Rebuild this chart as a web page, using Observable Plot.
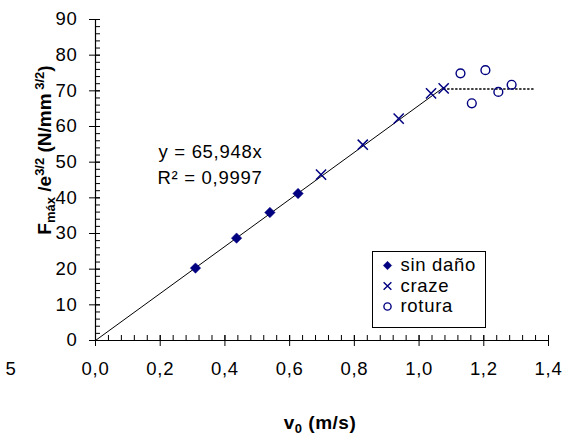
<!DOCTYPE html>
<html>
<head>
<meta charset="utf-8">
<script src="https://cdn.jsdelivr.net/npm/d3@7"></script>
<script src="https://cdn.jsdelivr.net/npm/@observablehq/plot@0.6"></script>
<style>
  html, body { margin: 0; padding: 0; background: #fff; }
  #chart { width: 569px; height: 441px; }
</style>
</head>
<body>
<div id="chart"></div>
<script>
// ---- data ----
const sinDanoV = [0.309, 0.436, 0.539, 0.626];
const sinDanoF = [20.3, 28.7, 35.9, 41.2];
const crazeV = [0.697, 0.826, 0.937, 1.037, 1.076];
const crazeF = [46.5, 54.9, 62.2, 69.3, 70.7];
const roturaV = [1.128, 1.205, 1.163, 1.245, 1.286];
const roturaF = [74.9, 75.8, 66.5, 69.7, 71.7];
const fitSlope = 65.948;
const fitR2 = 0.9997;
const fitRangeV = [0, 1.076];
const plateauV = [1.076, 1.353];
const plateauF = [70.5, 70.5];
const xTicks = [0, 0.2, 0.4, 0.6, 0.8, 1.0, 1.2, 1.4];
const yTicks = [0, 10, 20, 30, 40, 50, 60, 70, 80, 90];
const xMinorStep = 0.04;
const yMinorStep = 2;
const legendLabels = ["sin daño", "craze", "rotura"];
const legendSymbols = ["diamond2", "times", "circle"];
const strayLabel = ["5"];

// ---- layout ----
const W = 569, H = 441;
const mL = 95, mR = 21, mT = 19, mB = 101;
const fw = W - mL - mR, fh = H - mT - mB;
const navy = "#000080";
const fmt = d => d.toFixed(1).replace(".", ",");

const sinDano = sinDanoV.map((v, i) => ({v, f: sinDanoF[i]}));
const craze = crazeV.map((v, i) => ({v, f: crazeF[i]}));
const rotura = roturaV.map((v, i) => ({v, f: roturaF[i]}));
const fit = fitRangeV.map(v => ({v, f: fitSlope * v}));
const plateau = plateauV.map((v, i) => ({v, f: plateauF[i]}));
const xMinor = d3.range(0, 1.4 + 1e-9, xMinorStep);
const yMinor = d3.range(0, 90 + 1e-9, yMinorStep);

const eqText = "y = " + String(fitSlope).replace(".", ",") + "x";
const r2Text = "R² = " + String(fitR2).replace(".", ",");

const legendX = 292, legendTextX = 305, legendY0 = 246, legendDY = 20.5;

const plot = Plot.plot({
  width: W, height: H,
  marginLeft: mL, marginRight: mR, marginTop: mT, marginBottom: mB,
  x: {domain: [0, 1.4]},
  y: {domain: [0, 90]},
  style: {
    fontFamily: "'Liberation Sans', Arial, sans-serif",
    fontSize: "18.5px",
    letterSpacing: "0.7px",
    background: "#fff",
    overflow: "visible",
    color: "#000"
  },
  marks: [
    Plot.line(fit, {x: "v", y: "f", stroke: "#000", strokeWidth: 1}),
    Plot.line(plateau, {x: "v", y: "f", stroke: "#000", strokeWidth: 1.4, strokeDasharray: "1.4,2.6"}),
    Plot.ruleX([0], {stroke: "#000", strokeWidth: 1.2}),
    Plot.ruleY([0], {stroke: "#000", strokeWidth: 1.2}),
    Plot.tickY(yMinor, {y: d => d, insetRight: fw - 5, stroke: "#000"}),
    Plot.tickX(xMinor, {x: d => d, insetTop: fh - 5, stroke: "#000"}),
    Plot.tickY(yTicks, {y: d => d, insetLeft: -6, insetRight: fw - 5, stroke: "#000"}),
    Plot.tickX(xTicks, {x: d => d, insetTop: fh - 5, insetBottom: -6, stroke: "#000"}),
    Plot.axisX({ticks: xTicks, tickSize: 0, tickPadding: 21, tickFormat: fmt, label: null}),
    Plot.axisY({ticks: yTicks, tickSize: 0, tickPadding: 18, label: null}),
    Plot.text(strayLabel, {frameAnchor: "bottom-left", dx: -90, dy: 29, text: d => d, lineAnchor: "middle"}),
    Plot.dot(sinDano, {x: "v", y: "f", symbol: "diamond2", r: 4.7, fill: navy, stroke: navy, strokeWidth: 0.5}),
    Plot.dot(craze, {x: "v", y: "f", symbol: "times", r: 4.7, stroke: navy, strokeWidth: 1.5}),
    Plot.dot(rotura, {x: "v", y: "f", symbol: "circle", r: 4.4, stroke: navy, fill: "none", strokeWidth: 1.4}),
    Plot.text([eqText], {frameAnchor: "top-left", dx: 63, dy: 133, text: d => d, textAnchor: "start", lineAnchor: "middle"}),
    Plot.text([r2Text], {frameAnchor: "top-left", dx: 62, dy: 159, text: d => d, textAnchor: "start", lineAnchor: "middle"}),
    Plot.frame({insetLeft: 372 - mL, insetRight: W - mR - 485, insetTop: 251 - mT, insetBottom: H - mB - 327, fill: "#fff", stroke: "#000", strokeWidth: 1}),
    ...legendLabels.map((lab, i) => Plot.dot([lab], {
      frameAnchor: "top-left", dx: legendX, dy: legendY0 + i * legendDY,
      symbol: legendSymbols[i], r: i === 0 ? 3.8 : 3.6,
      fill: i === 0 ? navy : "none", stroke: navy, strokeWidth: i === 0 ? 0.5 : 1.4
    })),
    ...legendLabels.map((lab, i) => Plot.text([lab], {
      frameAnchor: "top-left", dx: legendTextX, dy: legendY0 + i * legendDY,
      text: d => d, textAnchor: "start", lineAnchor: "middle"
    }))
  ]
});

document.getElementById("chart").appendChild(plot);

const svg = d3.select(plot);
const xt = svg.append("text")
  .attr("x", 320).attr("y", 429)
  .attr("text-anchor", "middle")
  .attr("font-weight", "bold").attr("font-size", 19)
  .style("letter-spacing", "0.5px");
xt.append("tspan").text("v");
xt.append("tspan").attr("font-size", 13).attr("dy", 4).text("0");
xt.append("tspan").attr("dy", -4).text(" (m/s)");

const yt = svg.append("text")
  .attr("transform", "translate(51,150) rotate(-90)")
  .attr("text-anchor", "middle")
  .attr("font-weight", "bold").attr("font-size", 19)
  .style("letter-spacing", "0px");
yt.append("tspan").text("F");
yt.append("tspan").attr("font-size", 13).attr("dy", 4).text("máx");
yt.append("tspan").attr("dy", -4).text(" /e");
yt.append("tspan").attr("font-size", 13).attr("dy", -7).text("3/2");
yt.append("tspan").attr("dy", 7).text(" (N/mm");
yt.append("tspan").attr("font-size", 13).attr("dy", -7).text(" 3/2");
yt.append("tspan").attr("dy", 7).text(")");
</script>
</body>
</html>
